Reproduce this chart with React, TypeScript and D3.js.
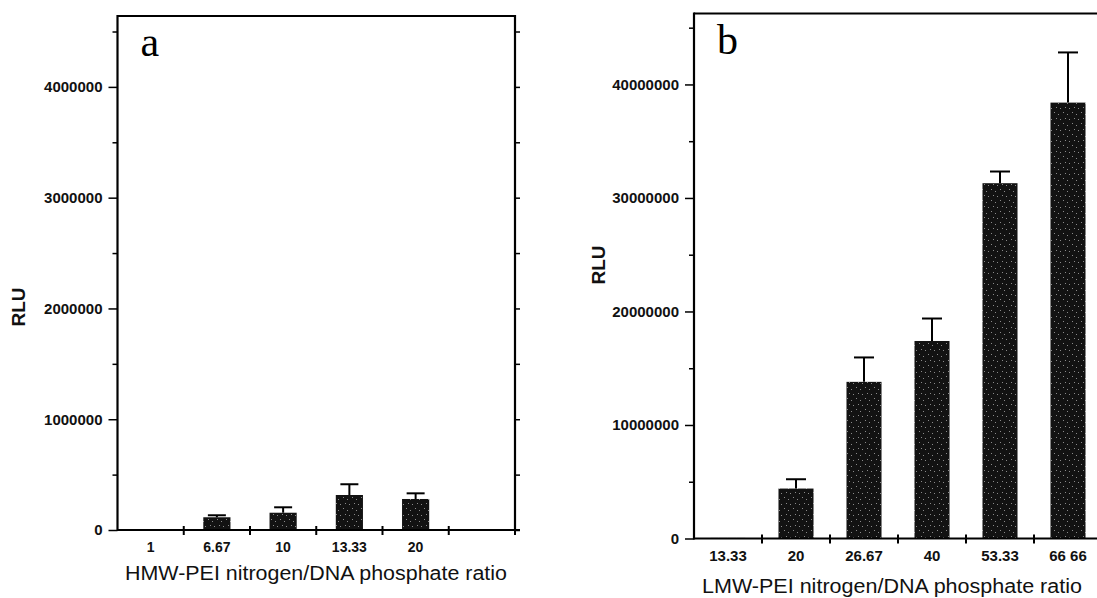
import { useRef, useEffect } from "react";
import * as d3 from "d3";

// panel a: HMW-PEI
const hmwRatios = ["1", "6.67", "10", "13.33", "20", ""];
const hmwRlu = [8000, 115000, 156000, 316000, 280000, 0];
const hmwErr = [0, 18000, 49000, 97000, 51000, 0];
const hmwTicks = [0, 1000000, 2000000, 3000000, 4000000];

// panel b: LMW-PEI
const lmwRatios = ["13.33", "20", "26.67", "40", "53.33", "66 66"];
const lmwRlu = [50000, 4400000, 13800000, 17400000, 31300000, 38400000];
const lmwErr = [0, 820000, 2150000, 1980000, 1030000, 4420000];
const lmwTicks = [0, 10000000, 20000000, 30000000, 40000000];

const FONT = "'Liberation Sans', Arial, Helvetica, sans-serif";

type Panel = {
  letter: string;
  title: string;
  cats: string[];
  vals: number[];
  errs: number[];
  ticks: number[];
  yMax: number;
  left: number;
  right: number;
  top: number;
  bottom: number;
  barFrac: number;
  cap: number;
  rightAxis: boolean;
  rluX: number;
  rluY: number;
  titleX: number;
  titleBase: number;
  titleLen: number;
  tickFont: number;
  yFont: number;
};

const panels: Panel[] = [
  {
    letter: "a",
    title: "HMW-PEI nitrogen/DNA phosphate ratio",
    cats: hmwRatios,
    vals: hmwRlu,
    errs: hmwErr,
    ticks: hmwTicks,
    yMax: 4640000,
    left: 117.5,
    right: 515,
    top: 16,
    bottom: 530,
    barFrac: 0.41,
    cap: 18,
    rightAxis: true,
    rluX: 25,
    rluY: 307,
    titleX: 316,
    titleBase: 580,
    titleLen: 382,
    tickFont: 14,
    yFont: 15,
  },
  {
    letter: "b",
    title: "LMW-PEI nitrogen/DNA phosphate ratio",
    cats: lmwRatios,
    vals: lmwRlu,
    errs: lmwErr,
    ticks: lmwTicks,
    yMax: 46250000,
    left: 694,
    right: 1102,
    top: 13.5,
    bottom: 538.5,
    barFrac: 0.515,
    cap: 20,
    rightAxis: false,
    rluX: 605,
    rluY: 265,
    titleX: 892,
    titleBase: 593,
    titleLen: 380,
    tickFont: 15,
    yFont: 15,
  },
];

const App = () => {
  const ref = useRef<SVGSVGElement | null>(null);

  useEffect(() => {
    const svg = d3.select(ref.current);
    svg.selectAll("*").remove();

    // stippled fill of the scanned bars
    const pat = svg
      .append("defs")
      .append("pattern")
      .attr("id", "stipple")
      .attr("patternUnits", "userSpaceOnUse")
      .attr("width", 9)
      .attr("height", 11);
    pat.append("rect").attr("width", 9).attr("height", 11).attr("fill", "#121212");
    [
      [1, 2],
      [5, 4],
      [3, 8],
      [7, 9],
    ].forEach(([x, y]) => {
      pat
        .append("rect")
        .attr("x", x)
        .attr("y", y)
        .attr("width", 1)
        .attr("height", 1)
        .attr("fill", "#8a8a8a");
    });

    panels.forEach((p) => {
      const g = svg.append("g");
      const x = d3
        .scaleBand()
        .domain(p.cats.map((c, i) => i + ":" + c))
        .range([p.left, p.right])
        .padding(0);
      const y = d3.scaleLinear().domain([0, p.yMax]).range([p.bottom, p.top]);
      const keys = x.domain();
      const bw = x.bandwidth();
      const minor = d3.range(p.ticks[1] / 2, p.yMax, p.ticks[1]);

      // bars
      g.selectAll("rect.bar")
        .data(p.vals)
        .join("rect")
        .attr("class", "bar")
        .attr("x", (d, i) => x(keys[i])! + (bw * (1 - p.barFrac)) / 2)
        .attr("width", bw * p.barFrac)
        .attr("y", (d) => y(d))
        .attr("height", (d) => p.bottom - y(d))
        .attr("fill", "url(#stipple)");

      // error bars (upper only)
      p.errs.forEach((e, i) => {
        if (!e) return;
        const cx = x(keys[i])! + bw / 2;
        g.append("line")
          .attr("x1", cx)
          .attr("x2", cx)
          .attr("y1", y(p.vals[i]))
          .attr("y2", y(p.vals[i] + e))
          .attr("stroke", "#000")
          .attr("stroke-width", 2);
        g.append("line")
          .attr("x1", cx - p.cap / 2)
          .attr("x2", cx + p.cap / 2)
          .attr("y1", y(p.vals[i] + e))
          .attr("y2", y(p.vals[i] + e))
          .attr("stroke", "#000")
          .attr("stroke-width", 2);
      });

      // left axis
      const yl = g.append("g").attr("transform", `translate(${p.left},0)`);
      yl.call(
        d3
          .axisLeft(y)
          .tickValues(p.ticks)
          .tickSize(9)
          .tickPadding(6)
          .tickFormat((d) => String(d))
      );
      yl.append("g").call(
        d3.axisLeft(y).tickValues(minor).tickSize(5).tickFormat(() => "")
      );
      yl.selectAll(".domain").remove();
      yl.selectAll("line").attr("stroke-width", 1.5);
      yl.selectAll("text")
        .attr("font-family", FONT)
        .attr("font-size", p.yFont)
        .attr("font-weight", "bold")
        .attr("fill", "#111");

      if (p.rightAxis) {
        const yr = g.append("g").attr("transform", `translate(${p.right},0)`);
        yr.call(
          d3
            .axisRight(y)
            .tickValues([...p.ticks, ...minor])
            .tickSize(5)
            .tickFormat(() => "")
        );
        yr.selectAll(".domain").remove();
        yr.selectAll("line").attr("stroke-width", 1.5);
        g.append("line")
          .attr("x1", p.right)
          .attr("x2", p.right)
          .attr("y1", p.top - 1)
          .attr("y2", p.bottom)
          .attr("stroke", "#000")
          .attr("stroke-width", 2.2);
      }

      // frame: left, top, bottom
      g.append("line")
        .attr("x1", p.left)
        .attr("x2", p.left)
        .attr("y1", p.top - 1)
        .attr("y2", p.bottom + 1)
        .attr("stroke", "#000")
        .attr("stroke-width", 2.2);
      g.append("line")
        .attr("x1", p.left)
        .attr("x2", p.right)
        .attr("y1", p.top)
        .attr("y2", p.top)
        .attr("stroke", "#000")
        .attr("stroke-width", 2);
      g.append("line")
        .attr("x1", p.left)
        .attr("x2", p.right + 5)
        .attr("y1", p.bottom)
        .attr("y2", p.bottom)
        .attr("stroke", "#000")
        .attr("stroke-width", 2.2);

      // x ticks at band edges, crossing the axis
      const edges = keys.slice(1).map((k) => x(k)!);
      if (p.rightAxis) edges.push(p.right);
      g.selectAll("line.xt")
        .data(edges)
        .join("line")
        .attr("class", "xt")
        .attr("x1", (d) => d)
        .attr("x2", (d) => d)
        .attr("y1", p.bottom - 4)
        .attr("y2", p.bottom + 5)
        .attr("stroke", "#000")
        .attr("stroke-width", 2);

      g.selectAll("text.xl")
        .data(p.cats)
        .join("text")
        .attr("class", "xl")
        .attr("x", (d, i) => x(keys[i])! + bw / 2)
        .attr("y", p.bottom + 22)
        .attr("text-anchor", "middle")
        .attr("font-family", FONT)
        .attr("font-size", p.tickFont)
        .attr("font-weight", "bold")
        .attr("fill", "#111")
        .text((d) => d);

      // axis titles
      g.append("text")
        .attr("x", p.titleX)
        .attr("y", p.titleBase)
        .attr("text-anchor", "middle")
        .attr("font-family", FONT)
        .attr("font-size", 20)
        .attr("textLength", p.titleLen)
        .attr("lengthAdjust", "spacingAndGlyphs")
        .attr("fill", "#111")
        .text(p.title);

      g.append("text")
        .attr("transform", `translate(${p.rluX},${p.rluY}) rotate(-90)`)
        .attr("text-anchor", "middle")
        .attr("font-family", FONT)
        .attr("font-size", 19)
        .attr("font-weight", "bold")
        .attr("fill", "#111")
        .text("RLU");

      // panel letter
      g.append("text")
        .attr("x", p.left + 23)
        .attr("y", p.top + 40)
        .attr("font-family", "'Liberation Serif', 'Times New Roman', serif")
        .attr("font-size", 42)
        .attr("fill", "#000")
        .text(p.letter);
    });
  }, []);

  return (
    <svg
      ref={ref}
      width={1097}
      height={598}
      style={{ position: "absolute", left: 0, top: 0, background: "#fff" }}
    />
  );
};

export default App;
